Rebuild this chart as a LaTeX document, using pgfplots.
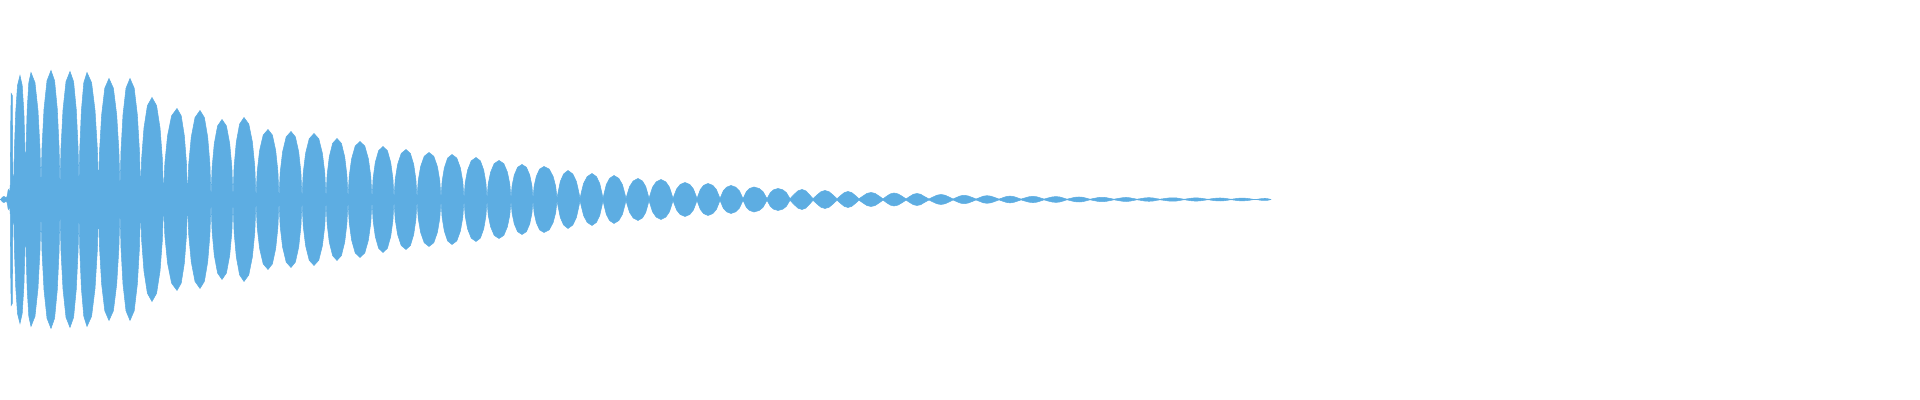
\documentclass[border=0pt]{standalone}
\usepackage{pgfplots}
\usepackage{pgfplotstable}
\pgfplotsset{compat=1.18}
\definecolor{wave}{HTML}{5DADE2}
\pgfplotstableread{
x y
0.5 0
1.7 1.5
2.8 2.6
4 3
5 2.6
6 1.5
7 3
7.5 5
8 8.7
8.5 10
9 8.7
9.5 5
10.3 15
10.7 75
11.2 106
12.3 104
12.7 40
13.2 12
13.8 12
14.4 49.6
15.7 86.8
17.5 114.1
20 124
22.2 114.1
23.9 86.8
24.95 49.6
25.5 12
26.05 50.8
27.15 88.9
28.8 116.8
31 127
35 116.8
38 88.9
40 50.8
41 13
42 51.6
44 90.3
47 118.7
51 129
54.6 118.7
57.3 90.3
59.1 51.6
60 10
61 51.2
63 89.6
66 117.8
70 128
73.6 117.8
76.3 89.6
78.1 51.2
79 13
79.8 50.8
81.4 88.9
83.8 116.8
87 127
91.6 116.8
95.05 88.9
97.35 50.8
98.5 12
99.55 48.4
101.65 84.7
104.8 111.3
109 121
113.4 111.3
116.7 84.7
118.9 48.4
120 10
121 48.4
123 84.7
126 111.3
130 121
134.2 111.3
137.35 84.7
139.45 48.4
140.5 10
141.65 40.8
143.95 71.4
147.4 93.8
152 102
156.6 93.8
160.05 71.4
162.35 40.8
163.5 5
164.85 36.4
167.55 63.7
171.6 83.7
177 91
181.2 83.7
184.35 63.7
186.45 36.4
187.5 3
188.75 35.6
191.25 62.3
195 81.9
200 89
204.4 81.9
207.7 62.3
209.9 35.6
211 1
212.1 32
214.3 56
217.6 73.6
222 80
226.4 73.6
229.7 56
231.9 32
233 1
234.1 32.8
236.3 57.4
239.6 75.4
244 82
248.8 75.4
252.4 57.4
254.8 32.8
256 1
257.2 28
259.6 49
263.2 64.4
268 70
272.4 64.4
275.7 49
277.9 28
279 1
280.2 27.2
282.6 47.6
286.2 62.6
291 68
295.4 62.6
298.7 47.6
300.9 27.2
302 1
303.2 26.4
305.6 46.2
309.2 60.7
314 66
318.8 60.7
322.4 46.2
324.8 26.4
326 1
327.1 24.4
329.3 42.7
332.6 56.1
337 61
341.4 56.1
344.7 42.7
346.9 24.4
348 1
349.2 23.2
351.6 40.6
355.2 53.4
360 58
364.8 53.4
368.4 40.6
370.8 23.2
372 1
373.1 21.2
375.3 37.1
378.6 48.8
383 53
387.4 48.8
390.7 37.1
392.9 21.2
394 1
395.2 20
397.6 35
401.2 46
406 50
410.4 46
413.7 35
415.9 20
417 1
418.2 18.8
420.6 32.9
424.2 43.2
429 47
433.8 43.2
437.4 32.9
439.8 18.8
441 1
442.1 18
444.3 31.5
447.6 41.4
452 45
456.8 41.4
460.4 31.5
462.8 18
464 1
465.2 16.8
467.6 29.4
471.2 38.6
476 42
480.4 38.6
483.7 29.4
485.9 16.8
487 1
488.2 15.6
490.6 27.3
494.2 35.9
499 39
503.8 35.9
507.4 27.3
509.8 15.6
511 1
512.1 14
514.3 24.5
517.6 32.2
522 35
526.4 32.2
529.7 24.5
531.9 14
533 1
534.1 13.2
536.3 23.1
539.6 30.4
544 33
549.2 30.4
553.1 23.1
555.7 13.2
557 1
558.1 7.3
560.3 18
563.6 25.5
568 29
572.8 25.5
576.4 18
578.8 7.3
580 1
581.2 6.5
583.6 16.1
587.2 22.9
592 26
596.4 22.9
599.7 16.1
601.9 6.5
603 1
604.1 6
606.3 14.9
609.6 21.1
614 24
618.8 21.1
622.4 14.9
624.8 6
626 1
627.2 5.3
629.6 13
633.2 18.5
638 21
642.4 18.5
645.7 13
647.9 5.3
649 1
650.2 5
652.6 12.4
656.2 17.6
661 20
665.8 17.6
669.4 12.4
671.8 5
673 1
674.2 4.3
676.6 10.5
680.2 15
685 17
689.8 15
693.4 10.5
695.8 4.3
697 1
698.1 4
700.3 9.9
703.6 14.1
708 16
712.8 14.1
716.4 9.9
718.8 4
720 1
721.1 3.5
723.3 8.7
726.6 12.3
731 14
735.8 12.3
739.4 8.7
741.8 3.5
743 0.8
744.1 3.1
746.3 7.75
749.6 11
754 12.5
759.2 11
763.1 7.75
765.7 3.1
767 0.8
768.1 2.8
770.3 6.8
773.6 9.7
778 11
782.8 9.7
786.4 6.8
788.8 2.8
790 0.8
794 5
798 8.7
802 10
805.7 8.7
809.3 5
813 0.8
817 4.5
821 7.8
825 9
829 7.8
833 4.5
837 0.7
840.7 4
844.3 6.9
848 8
851.7 6.9
855.3 4
859 0.7
863 3.5
867 6.1
871 7
875 6.1
879 3.5
883 0.6
886.7 3.3
890.3 5.6
894 6.5
898 5.6
902 3.3
906 0.6
909.7 3
913.3 5.2
917 6
920.7 5.2
924.3 3
929 0.5
933 2.5
937 4.3
941 5
945 4.3
949 2.5
953 0.5
956.7 2.1
960.3 3.6
964 4.2
968 3.6
972 2.1
976 0.5
979.7 1.9
983.3 3.3
987 3.8
991 3.3
995 1.9
999 0.4
1002.7 1.7
1006.3 2.9
1010 3.4
1013.7 2.9
1017.3 1.7
1021 0.4
1025 1.6
1029 2.7
1033 3.1
1036.7 2.7
1040.3 1.6
1044 0.4
1048 1.5
1052 2.5
1056 2.9
1059.7 2.5
1063.3 1.5
1067 0.3
1071 1.3
1075 2.2
1079 2.5
1082.7 2.2
1086.3 1.3
1090 0.3
1094 1.1
1098 1.9
1102 2.2
1106 1.9
1110 1.1
1114 0.3
1118 1
1122 1.7
1126 2
1129.7 1.7
1133.3 1
1137 0.3
1141 0.9
1145 1.6
1149 1.8
1152.7 1.6
1156.3 0.9
1160 0.3
1164.3 0.9
1168.7 1.5
1173 1.7
1176.7 1.5
1180.3 0.9
1184 0.2
1188 0.8
1192 1.4
1196 1.6
1200 1.4
1204 0.8
1208 0.2
1212 0.8
1216 1.3
1220 1.5
1223.7 1.3
1227.3 0.8
1231 0.2
1234.7 0.7
1238.3 1.2
1242 1.4
1246 1.2
1250 0.7
1254 0
1256 0
1259 0.5
1262 0.9
1265 1
1267 0.9
1269 0.5
1271 0
}\upper
\begin{document}
\begin{tikzpicture}
\begin{axis}[
  scale only axis,
  width=19.2cm, height=4cm,
  xmin=0, xmax=1920, ymin=-200.5, ymax=199.5,
  hide axis,
]
\addplot[draw=none, forget plot] coordinates {(0,-200.5) (1920,199.5)};
\addplot[fill=wave, draw=wave, line width=0.15pt] table {\upper};
\addplot[fill=wave, draw=wave, line width=0.15pt] table[y expr=-\thisrow{y}] {\upper};
\addplot[draw=wave, line width=0.5pt] coordinates {(0.5,0) (1271,0)};
\end{axis}
\end{tikzpicture}
\end{document}
